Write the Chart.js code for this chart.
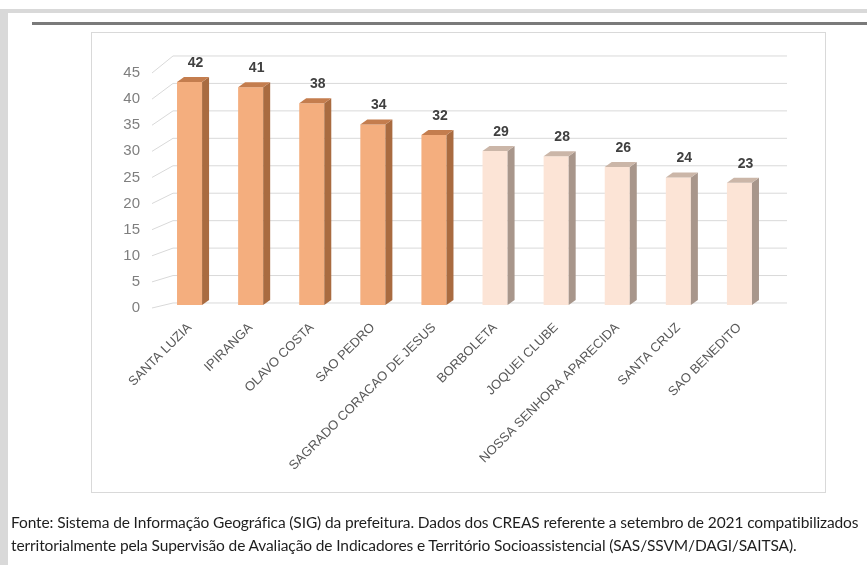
<!DOCTYPE html>
<html>
<head>
<meta charset="utf-8">
<script src="https://cdn.jsdelivr.net/npm/chart.js@4.4.1/dist/chart.umd.min.js"></script>
<style>
html, body { margin: 0; padding: 0; background: #fff; }
body { width: 867px; height: 565px; position: relative; overflow: hidden; }
#band { position: absolute; left: 0; top: 9px; width: 867px; height: 4px; background: #d9d9d9; }
#strip { position: absolute; left: 0; top: 9px; width: 8px; height: 556px; background: #d9d9d9; }
#rule { position: absolute; left: 32px; top: 22px; width: 835px; height: 3px; background: #7a7a7a; }
#box { position: absolute; left: 91px; top: 32px; width: 733px; height: 459px; border: 1px solid #d9d9d9; }
#wrap { position: absolute; left: 0; top: 0; width: 867px; height: 565px; }
#note { position: absolute; left: 11px; top: 511px; font-family: Lato, "Open Sans", sans-serif; font-size: 15.5px; line-height: 23px; color: #1e1e1e; white-space: nowrap; }
</style>
</head>
<body>
<div id="band"></div>
<div id="strip"></div>
<div id="rule"></div>
<div id="box"></div>
<div id="wrap"><canvas id="myChart" width="867" height="565"></canvas></div>
<div id="note"><span id="l1">Fonte: Sistema de Informação Geográfica (SIG) da prefeitura. Dados dos CREAS referente a setembro de 2021 compatibilizados</span><br><span id="l2">territorialmente pela Supervisão de Avaliação de Indicadores e Território Socioassistencial (SAS/SSVM/DAGI/SAITSA).</span></div>
<script>
var categories = ['SANTA LUZIA', 'IPIRANGA', 'OLAVO COSTA', 'SAO PEDRO', 'SAGRADO CORACAO DE JESUS',
    'BORBOLETA', 'JOQUEI CLUBE', 'NOSSA SENHORA APARECIDA', 'SANTA CRUZ', 'SAO BENEDITO'];
var values = [42, 41, 38, 34, 32, 29, 28, 26, 24, 23];
var yMin = 0, yMax = 45, yStep = 5;
var topGroup = 5; // first five bairros are highlighted in darker orange

var narrow = '"Liberation Sans Narrow", "Liberation Sans", Arial, sans-serif';

function front(i) { return i < topGroup ? '#f4ae7e' : '#fce4d6'; }
function side(i) { return i < topGroup ? '#a96b40' : '#a8968b'; }
function top_(i) { return i < topGroup ? '#c47d4e' : '#cbb6a8'; }

// fake excel 3d: back wall grid, floor diagonals, bar sides/tops and value labels
var excel3d = {
    id: 'excel3d',
    beforeDatasetsDraw: function (chart) {
        var c = chart.ctx, a = chart.chartArea;
        var y = chart.scales.y, yg = chart.scales.yg;
        c.save();
        c.strokeStyle = '#d9d9d9';
        c.lineWidth = 1;
        y.ticks.forEach(function (t) {
            var fy = y.getPixelForValue(t.value), by = yg.getPixelForValue(t.value);
            c.beginPath();
            c.moveTo(a.left - 7, fy);
            c.lineTo(a.left + 14, by);
            c.lineTo(a.right + 17, by);
            c.stroke();
        });
        c.restore();
    },
    afterDatasetsDraw: function (chart) {
        var c = chart.ctx;
        var meta = chart.getDatasetMeta(0);
        var dx = 7, dy = 5;
        c.save();
        meta.data.forEach(function (bar, i) {
            var l = bar.x - bar.width / 2, r = bar.x + bar.width / 2;
            c.fillStyle = side(i);
            c.beginPath();
            c.moveTo(r, bar.y);
            c.lineTo(r + dx, bar.y - dy);
            c.lineTo(r + dx, bar.base - dy);
            c.lineTo(r, bar.base);
            c.closePath();
            c.fill();
            c.fillStyle = top_(i);
            c.beginPath();
            c.moveTo(l, bar.y);
            c.lineTo(l + dx, bar.y - dy);
            c.lineTo(r + dx, bar.y - dy);
            c.lineTo(r, bar.y);
            c.closePath();
            c.fill();
            c.fillStyle = '#404040';
            c.font = 'bold 14px ' + narrow;
            c.textAlign = 'center';
            c.textBaseline = 'middle';
            c.fillText(values[i], bar.x + 6, bar.y - 19);
        });
        c.restore();
    }
};

var ctx = document.getElementById('myChart').getContext('2d');
var myChart = new Chart(ctx, {
    type: 'bar',
    data: {
        labels: categories,
        datasets: [{
            data: values,
            yAxisID: 'yb',
            backgroundColor: values.map(function (v, i) { return front(i); }),
            barPercentage: 0.41,
            categoryPercentage: 1.0
        }]
    },
    options: {
        responsive: false,
        animation: false,
        layout: { padding: { left: 100, right: 97, top: 73, bottom: 77 } },
        plugins: {
            legend: { display: false },
            tooltip: { enabled: false }
        },
        scales: {
            x: {
                grid: { display: false },
                border: { display: false },
                ticks: {
                    minRotation: 45,
                    maxRotation: 45,
                    autoSkip: false,
                    padding: 4,
                    color: '#595959',
                    font: { family: narrow, size: 13 }
                },
                afterFit: function (s) { s.height = 180; }
            },
            y: {
                min: yMin,
                max: yMax,
                grid: { display: false, drawTicks: false },
                border: { display: false },
                ticks: {
                    stepSize: yStep,
                    padding: 19,
                    color: '#7f7f7f',
                    font: { family: narrow, size: 15 }
                },
                afterFit: function (s) { s.width = 59; }
            },
            // bars sit a bit deeper than the front axis
            yb: { display: false, min: -0.565, max: 43.69 },
            // back wall of the 3d box
            yg: { display: false, min: -0.911, max: 41.9 }
        }
    },
    plugins: [excel3d]
});

// stretch the source note to the width of the original line
var l1 = document.getElementById('l1');
var extra = (847 - l1.offsetWidth) / l1.textContent.length;
document.getElementById('note').style.letterSpacing = extra + 'px';
</script>
</body>
</html>
